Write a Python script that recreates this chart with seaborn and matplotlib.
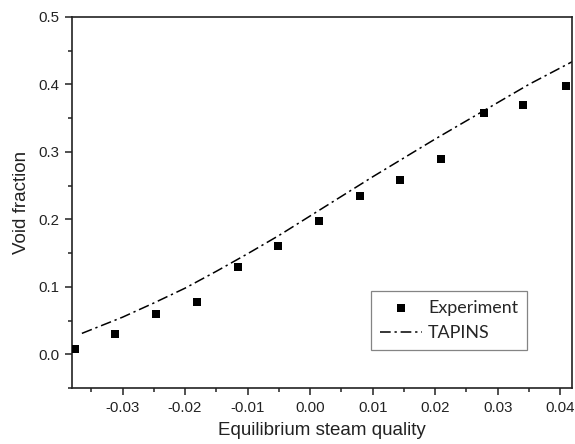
import matplotlib
matplotlib.use("Agg")
import matplotlib.pyplot as plt
import seaborn as sns
import pandas as pd
from matplotlib.ticker import MultipleLocator

exp_x = [-0.0376, -0.0312, -0.0246, -0.0181, -0.0115, -0.0051, 0.0014, 0.0080, 0.0144, 0.0210, 0.0278, 0.0341, 0.0410]
exp_y = [0.008, 0.030, 0.059, 0.077, 0.130, 0.160, 0.197, 0.235, 0.258, 0.289, 0.358, 0.369, 0.397]

tap_x = [-0.0365, -0.030, -0.025, -0.020, -0.015, -0.010, -0.005, 0.000, 0.005, 0.010, 0.015, 0.020, 0.025, 0.030, 0.035, 0.042]
tap_y = [0.031, 0.055, 0.076, 0.098, 0.123, 0.149, 0.176, 0.205, 0.234, 0.263, 0.291, 0.319, 0.346, 0.373, 0.400, 0.434]

sns.set_style("white")
plt.rcParams['font.family'] = ['Liberation Sans', 'DejaVu Sans']

fig = plt.figure(figsize=(5.75, 4.44), dpi=100)
ax = fig.add_axes([0.125, 0.126, 0.87, 0.836])

df_exp = pd.DataFrame({"x": exp_x, "y": exp_y})
df_tap = pd.DataFrame({"x": tap_x, "y": tap_y})

sns.lineplot(data=df_tap, x="x", y="y", ax=ax, color="black", lw=1.1,
             label="TAPINS", zorder=2)
ax.lines[-1].set_dashes((7, 2.5, 1.5, 2.5))
sns.scatterplot(data=df_exp, x="x", y="y", ax=ax, marker="s", s=40, color="black",
                edgecolor="black", linewidth=0, label="Experiment", zorder=3)

ax.set_xlim(-0.0381, 0.0419)
ax.set_ylim(-0.05, 0.5)
ax.xaxis.set_minor_locator(MultipleLocator(0.005))
ax.yaxis.set_minor_locator(MultipleLocator(0.05))
ax.set_xticks([-0.03, -0.02, -0.01, 0.0, 0.01, 0.02, 0.03, 0.04])
ax.set_xticklabels(["-0.03", "-0.02", "-0.01", "0.00", "0.01", "0.02", "0.03", "0.04"])
ax.set_yticks([0.0, 0.1, 0.2, 0.3, 0.4, 0.5])
ax.set_yticklabels(["0.0", "0.1", "0.2", "0.3", "0.4", "0.5"])

ax.tick_params(which="major", direction="out", length=5, width=1.1, colors="#222222",
               labelsize=10.8, bottom=True, left=True, labelcolor="#222222", pad=4)
ax.tick_params(which="minor", direction="out", length=3, width=1.1, colors="#222222",
               bottom=True, left=True)
for s in ax.spines.values():
    s.set_color("#222222")
    s.set_linewidth(1.2)

ax.set_xlabel("Equilibrium steam quality", fontsize=13.5, color="#222222", labelpad=5)
ax.set_ylabel("Void fraction", fontsize=13.5, color="#222222", labelpad=6)

h, l = ax.get_legend_handles_labels()
order = [l.index("Experiment"), l.index("TAPINS")]
leg = ax.legend([h[i] for i in order], [l[i] for i in order],
                loc="lower right", bbox_to_anchor=(0.91, 0.1024),
                frameon=True, fancybox=False, edgecolor="#666666",
                prop={"family": ["Lato", "DejaVu Sans"], "size": 12.9},
                handlelength=2.35, borderpad=0.5, labelspacing=0.5,
                handletextpad=0.35, borderaxespad=0)
leg.get_frame().set_linewidth(0.9)

fig.savefig("out.png", dpi=100)
